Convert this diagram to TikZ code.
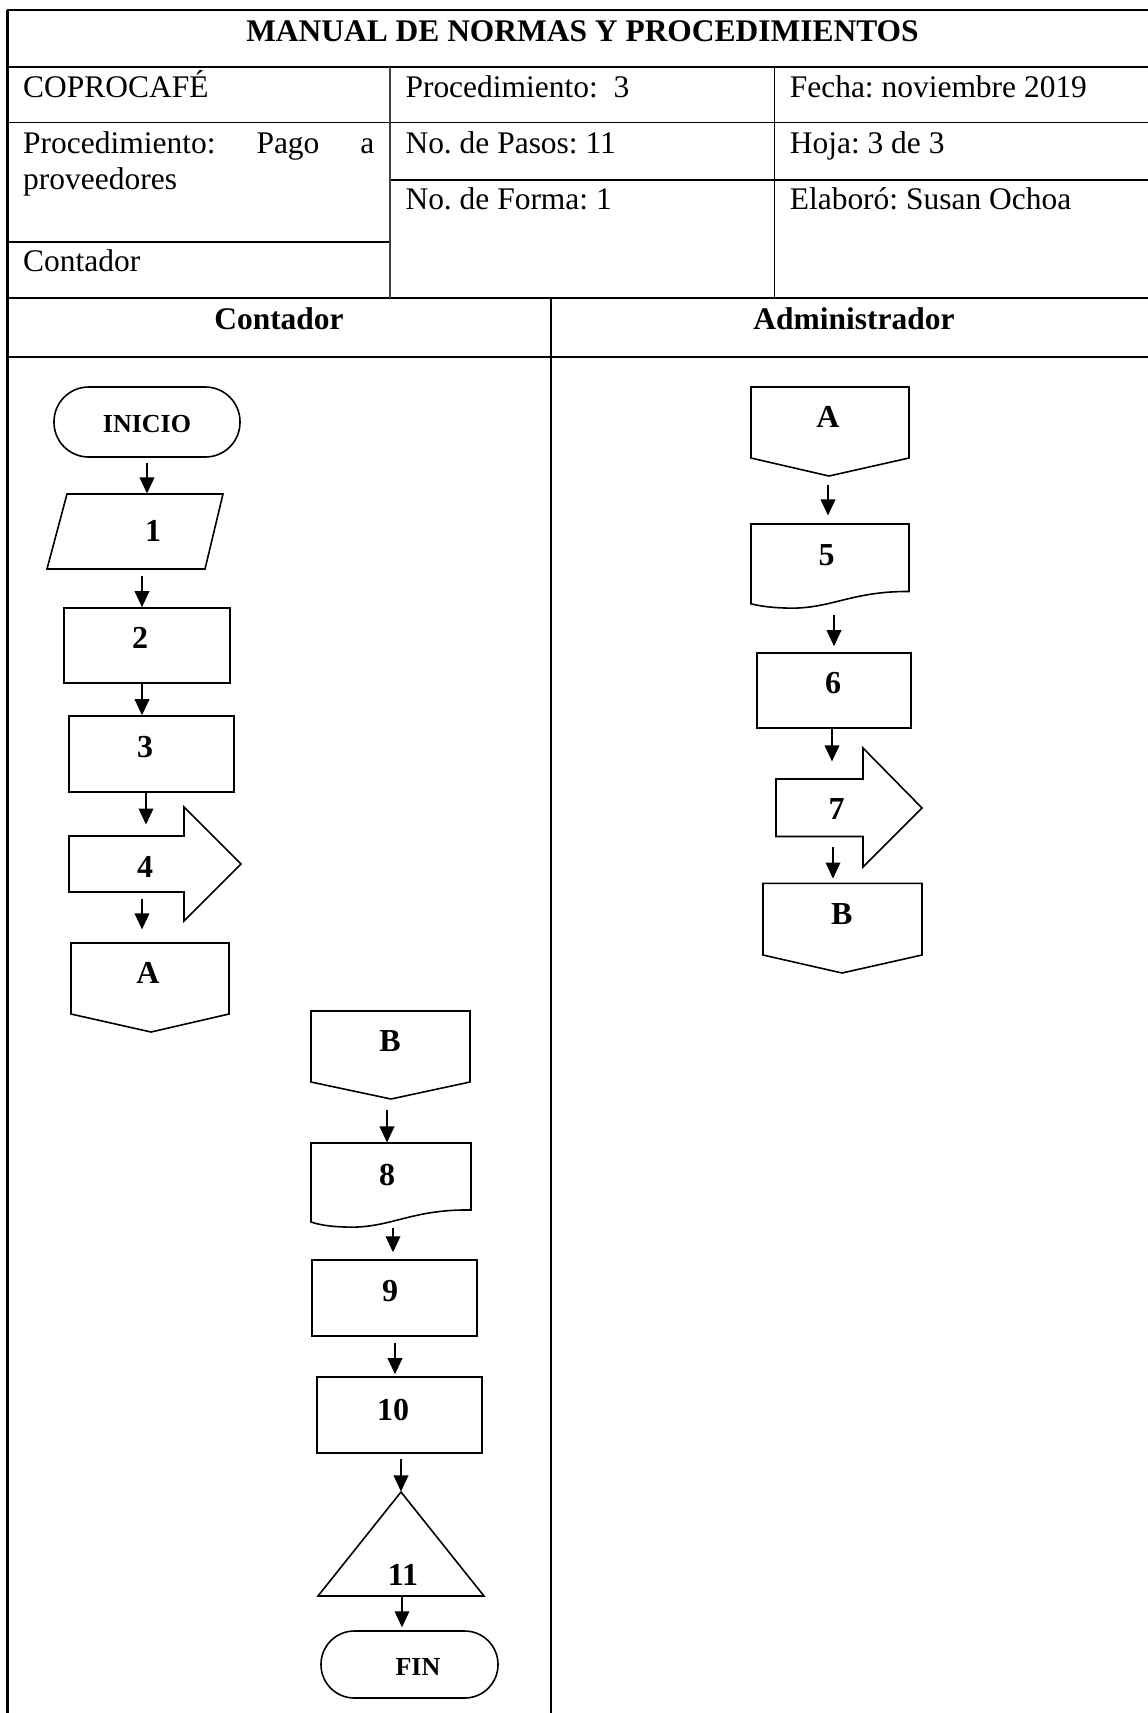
\documentclass[tikz,border=0pt]{standalone}
\usepackage{fontspec}
\setmainfont{Liberation Serif}
\usetikzlibrary{arrows.meta,fit}
\frenchspacing
\begin{document}
\begin{tikzpicture}[x=0.375pt,y=-0.375pt,
  hdr/.style={anchor=base west,inner sep=0,font=\fontsize{11.8}{14}\selectfont},
  hdrb/.style={anchor=base,inner sep=0,font=\fontsize{11.8}{14}\selectfont\bfseries},
  thick line/.style={line width=0.8pt},
  mid line/.style={line width=0.55pt},
  thin line/.style={line width=0.4pt},
  shp/.style={line width=0.6pt},
  region/.style={inner sep=0},
  num/.style={inner sep=0,font=\fontsize{12}{14}\selectfont\bfseries},
  term/.style={inner sep=0,font=\fontsize{9.75}{12}\selectfont\bfseries},
  arr/.style={line width=0.5pt,-{Triangle[width=5.5pt,length=6pt]}}
]
\useasboundingbox (0,0) rectangle (1148,1713);

% ---------- header table ----------
\draw[thick line] (7,10) -- (1148,10);
\draw[thick line] (7,66.7) -- (1148,66.7);
\draw[mid line] (7,122.7) -- (1148,122.7);
\draw[mid line] (390,180) -- (1148,180);
\draw[thick line] (7,241.7) -- (390,241.7);
\draw[thick line] (7,297.7) -- (1148,297.7);
\draw[thick line] (7,357.3) -- (1148,357.3);
\draw[line width=1pt] (7.3,9.6) -- (7.3,1713);
\draw[thin line,black!75] (390,66.7) -- (390,297.7);
\draw[thin line] (774.3,66.7) -- (774.3,297.7);
\draw[mid line] (551,297.7) -- (551,1713);

\node[hdrb] (title) at (582.5,41.7) {MANUAL DE NORMAS Y PROCEDIMIENTOS};
\node[hdr] (h1) at (22.7,97.3) {COPROCAFÉ};
\node[hdr] (h2) at (405,97.3) {Procedimiento:\ \ 3};
\node[hdr] (h3) at (789.3,97.3) {Fecha: noviembre 2019};
\node[hdr] (h4) at (22.7,153.3) {\makebox[131.7pt][s]{Procedimiento:\hfill Pago\hfill a}};
\node[hdr] (h5) at (22.7,189.3) {proveedores};
\node[hdr] (h6) at (405,153.3) {No. de Pasos: 11};
\node[hdr] (h7) at (789.3,153.3) {Hoja: 3 de 3};
\node[hdr] (h8) at (405,209.3) {No. de Forma: 1};
\node[hdr] (h9) at (789.3,209.3) {Elaboró: Susan Ochoa};
\node[hdr] (h10) at (22.7,271.7) {Contador};
\node[hdrb] (lane1) at (279,329) {Contador};
\node[hdrb] (lane2) at (854,329) {Administrador};

% ---------- Contador lane (upper) ----------
\node[shp,draw,rounded corners=13pt,inner sep=0,fit={(54,387) (240,457)}] (s0) {};
\node[term] (t0) at (147,424) {INICIO};

\draw[shp] (67,494) -- (223,494) -- (205,569) -- (47,569) -- cycle;
\node[region,fit={(47,494) (223,569)}] (s1) {};
\node[num] (t1) at (153,531) {1};

\node[shp,draw,inner sep=0,fit={(64,608) (230,683)}] (s2) {};
\node[num] (t2) at (140,637.5) {2};

\node[shp,draw,inner sep=0,fit={(69,716) (234,792)}] (s3) {};
\node[num] (t3) at (145,747) {3};

\draw[shp] (69,836) -- (184,836) -- (184,807) -- (241,864) -- (184,921) -- (184,892) -- (69,892) -- cycle;
\node[region,fit={(69,836) (184,892)}] (s4) {};
\node[num] (t4) at (145,867) {4};

\draw[shp] (71,943) -- (229,943) -- (229,1014) -- (151,1032) -- (71,1014) -- cycle;
\node[region,fit={(71,943) (229,1032)}] (sA1) {};
\node[num] (tA1) at (148,973) {A};

% ---------- Administrador lane ----------
\draw[shp] (751,387) -- (909,387) -- (909,458) -- (829,476) -- (751,458) -- cycle;
\node[region,fit={(751,387) (909,476)}] (sA2) {};
\node[num] (tA2) at (828,417) {A};

\draw[shp] (751,603.8) -- (751,524) -- (909,524) -- (909,591.5)
  .. controls (850,591) and (830,610) .. (785,608)
  .. controls (770,607.5) and (760,606) .. (751,603.8) -- cycle;
\node[region,fit={(751,524) (909,608)}] (s5) {};
\node[num] (t5) at (826.7,555) {5};

\node[shp,draw,inner sep=0,fit={(757,653) (911,728)}] (s6) {};
\node[num] (t6) at (833,683) {6};

\draw[shp] (776,779) -- (863,779) -- (863,748) -- (922,808) -- (863,867) -- (863,836.5) -- (776,836.5) -- cycle;
\node[region,fit={(776,779) (863,836.5)}] (s7) {};
\node[num] (t7) at (836.7,809.5) {7};

\draw[shp] (763,883.3) -- (922,883.3) -- (922,955) -- (842,973) -- (763,955) -- cycle;
\node[region,fit={(763,883.3) (922,973)}] (sB2) {};
\node[num] (tB2) at (841.7,914) {B};

% ---------- Contador lane (lower) ----------
\draw[shp] (311,1011) -- (470,1011) -- (470,1082) -- (391,1099) -- (311,1082) -- cycle;
\node[region,fit={(311,1011) (470,1099)}] (sB1) {};
\node[num] (tB1) at (390,1041) {B};

\draw[shp] (311,1222) -- (311,1143) -- (471,1143) -- (471,1210)
  .. controls (410,1209) and (390,1229) .. (345,1227)
  .. controls (330,1226.5) and (320,1225) .. (311,1222) -- cycle;
\node[region,fit={(311,1143) (471,1227)}] (s8) {};
\node[num] (t8) at (387,1175) {8};

\node[shp,draw,inner sep=0,fit={(312,1260) (477,1336)}] (s9) {};
\node[num] (t9) at (390,1291) {9};

\node[shp,draw,inner sep=0,fit={(317,1377) (482,1453)}] (s10) {};
\node[num] (t10) at (393,1410) {10};

\draw[shp] (401,1492) -- (484,1596) -- (318,1596) -- cycle;
\node[region,fit={(318,1492) (484,1596)}] (s11) {};
\node[num] (t11) at (403,1575) {11};

\node[shp,draw,rounded corners=12.5pt,inner sep=0,fit={(321,1631) (498,1698)}] (sF) {};
\node[term] (tF) at (418,1667) {FIN};

% ---------- connectors ----------
\draw[arr,shorten <=1.9pt] (s0.south -| 147,0) -- (s1.north -| 147,0);
\draw[arr,shorten <=2.6pt] (s1.south -| 142,0) -- (s2.north -| 142,0);
\draw[arr] (s2.south -| 142,0) -- (s3.north -| 142,0);
\draw[arr,shorten >=4.1pt] (s3.south -| 146,0) -- (s4.north -| 146,0);
\draw[arr,shorten <=2.25pt,shorten >=4.9pt] (s4.south -| 142,0) -- (sA1.north -| 142,0);

\draw[arr,shorten <=3pt,shorten >=3pt] (sA2.south -| 828,0) -- (s5.north -| 828,0);
\draw[arr,shorten <=2.4pt,shorten >=2.25pt] (s5.south -| 834,0) -- (s6.north -| 834,0);
\draw[arr,shorten >=6.4pt] (s6.south -| 832,0) -- (s7.north -| 832,0);
\draw[arr,shorten <=3.9pt,shorten >=1.6pt] (s7.south -| 833,0) -- (sB2.north -| 833,0);

\draw[arr,shorten <=4.1pt] (sB1.south -| 387,0) -- (s8.north -| 387,0);
\draw[arr,shorten >=2.6pt] (s8.south -| 393,0) -- (s9.north -| 393,0);
\draw[arr,shorten <=2.25pt,shorten >=0.75pt] (s9.south -| 395,0) -- (s10.north -| 395,0);
\draw[arr,shorten <=1.9pt] (s10.south -| 401,0) -- (s11.north -| 401,0);
\draw[arr,shorten >=1.1pt] (s11.south -| 402,0) -- (sF.north -| 402,0);
\end{tikzpicture}
\end{document}
